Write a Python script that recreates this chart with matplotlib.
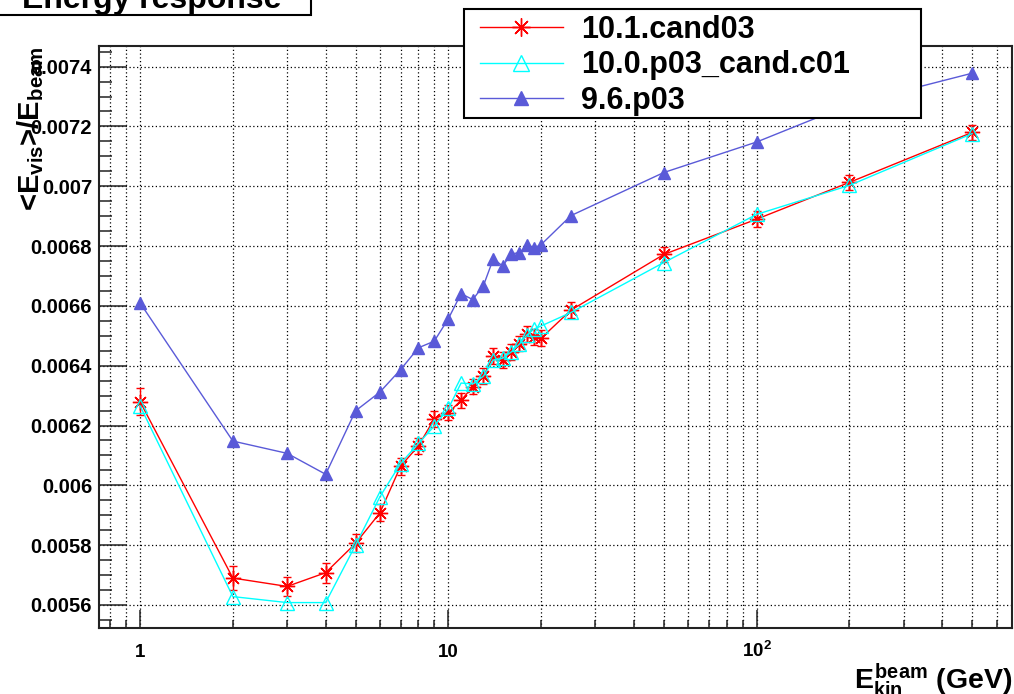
import matplotlib
matplotlib.use('Agg')
import matplotlib.pyplot as plt
from matplotlib.ticker import LogLocator, MultipleLocator, FuncFormatter, NullFormatter
from matplotlib.patches import Rectangle
from matplotlib.lines import Line2D

plt.rcParams['font.family'] = ['Liberation Sans', 'DejaVu Sans']
plt.rcParams['font.weight'] = 'bold'
plt.rcParams['axes.labelweight'] = 'bold'
plt.rcParams['mathtext.fontset'] = 'custom'
plt.rcParams['mathtext.rm'] = 'Liberation Sans:bold'
plt.rcParams['mathtext.it'] = 'Liberation Sans:bold'
plt.rcParams['mathtext.bf'] = 'Liberation Sans:bold'

# Beam kinetic energies (GeV)
energy = [1, 2, 3, 4, 5, 6, 7, 8, 9, 10, 11, 12, 13, 14, 15, 16, 17, 18, 19, 20,
          25, 50, 100, 200, 500]

# <E_vis>/E_beam for each software version
resp_101 = [0.006280, 0.005690, 0.005662, 0.005708, 0.005806, 0.005908, 0.006064,
            0.006132, 0.006222, 0.006243, 0.006284, 0.006330, 0.006365, 0.006432,
            0.006420, 0.006446, 0.006474, 0.006506, 0.006496, 0.006492, 0.006586,
            0.006772, 0.006890, 0.007013, 0.007180]
err_101 = [0.000046, 0.000039, 0.000033, 0.000034, 0.000030, 0.000028, 0.000028,
           0.000027, 0.000027, 0.000026, 0.000026, 0.000026, 0.000026, 0.000026,
           0.000026, 0.000026, 0.000026, 0.000026, 0.000026, 0.000026, 0.000026,
           0.000026, 0.000026, 0.000026, 0.000026]
resp_100 = [0.006266, 0.005628, 0.005608, 0.005608, 0.005800, 0.005962, 0.006073,
            0.006140, 0.006198, 0.006257, 0.006342, 0.006339, 0.006365, 0.006419,
            0.006425, 0.006446, 0.006472, 0.006503, 0.006523, 0.006533, 0.006578,
            0.006745, 0.006906, 0.007003, 0.007176]
resp_96 = [0.006610, 0.006148, 0.006107, 0.006037, 0.006249, 0.006312, 0.006387,
           0.006460, 0.006482, 0.006557, 0.006641, 0.006621, 0.006668, 0.006758,
           0.006733, 0.006774, 0.006778, 0.006802, 0.006794, 0.006805, 0.006902,
           0.007046, 0.007148, 0.007273, 0.007378]

series_labels = ['10.1.cand03', '10.0.p03_cand.c01', '9.6.p03']
c_red, c_cyan, c_blue = '#ff0000', '#00ffff', '#5a5ad8'
asterisk = (8, 2, 0)

W, H = 1014, 694
fig = plt.figure(figsize=(W / 100, H / 100), dpi=100)
ax = fig.add_axes([99 / W, 1 - 628 / H, (1012.5 - 99) / W, (628 - 46) / H])

ax.errorbar(energy, resp_101, yerr=err_101, color=c_red, lw=1, marker=asterisk,
            ms=11, mew=1, capsize=3, elinewidth=1, capthick=1, zorder=3)
ax.plot(energy, resp_100, color=c_cyan, lw=1, marker='^', ms=10, mfc='none',
        mec=c_cyan, mew=1, zorder=4)
ax.plot(energy, resp_96, color=c_blue, lw=1, marker='^', ms=8.5, mfc=c_blue,
        mec=c_blue, zorder=4)

ax.set_xscale('log')
ax.set_xlim(0.736, 676)
ax.set_ylim(0.005523, 0.007469)

ax.xaxis.set_major_locator(LogLocator(base=10, numticks=10))
ax.xaxis.set_minor_locator(LogLocator(base=10, subs=[2, 3, 4, 5, 6, 7, 8, 9], numticks=20))
ax.xaxis.set_minor_formatter(NullFormatter())
ax.set_xticks([1, 10, 100], labels=['1', '10', r'$10^{2}$'])
ax.yaxis.set_major_locator(MultipleLocator(0.0002))
ax.yaxis.set_minor_locator(MultipleLocator(0.00005))
ax.yaxis.set_major_formatter(FuncFormatter(lambda v, p: f'{v:.4f}'.rstrip('0')))

ax.tick_params(axis='both', which='both', direction='in', top=False, right=False,
               color='#222222', width=1.1)
ax.tick_params(axis='y', which='major', length=20, labelsize=14.5, pad=5)
ax.tick_params(axis='y', which='minor', length=9.5)
ax.tick_params(axis='x', which='major', length=12.7, labelsize=13.5, pad=21)
ax.tick_params(axis='x', which='minor', length=5.8)
for lab in ax.get_xticklabels():
    lab.set_verticalalignment('baseline')

dot = (0, (1, 2))
ax.grid(True, axis='x', which='both', color='black', lw=0.9, ls=dot)
ax.grid(True, axis='y', which='major', color='black', lw=0.9, ls=dot)
ax.set_axisbelow(True)
for s in ax.spines.values():
    s.set_linewidth(1.5)
    s.set_color('#222222')

ax.set_ylabel('<E$_{vis}$>/E$_{beam}$', fontsize=21, fontweight='bold', loc='top')
ax.yaxis.set_label_coords(-0.058, 1.0)
ax.set_xlabel(r'$E_{kin}^{beam}$ (GeV)', fontsize=20.5, fontweight='bold', loc='right')
ax.xaxis.set_label_coords(1.0, -0.057)

# Title box
fig.patches.append(Rectangle((-2 / W, 1 - 15 / H), 313 / W, 40 / H, transform=fig.transFigure,
                             facecolor='white', edgecolor='black', lw=1.5, zorder=5))
fig.text(152 / W, 1 - 8 / H, 'Energy response', ha='center', va='baseline',
         fontsize=23, fontweight='bold', zorder=6)

# Legend box
fig.patches.append(Rectangle((464 / W, 1 - 118 / H), 457 / W, 109 / H, transform=fig.transFigure,
                             facecolor='white', edgecolor='black', lw=1.5, zorder=5))
handles = [
    Line2D([], [], color=c_red, lw=1, marker=asterisk, ms=13, mew=1),
    Line2D([], [], color=c_cyan, lw=1, marker='^', ms=11, mfc='none', mec=c_cyan, mew=1),
    Line2D([], [], color=c_blue, lw=1, marker='^', ms=10, mfc=c_blue, mec=c_blue),
]
leg = fig.legend(handles, series_labels, loc='upper left',
                 bbox_to_anchor=(480 / W, 1 - 15 / H), bbox_transform=fig.transFigure,
                 frameon=False, borderpad=0, borderaxespad=0, handlelength=2.7,
                 handletextpad=0.6, labelspacing=0.18,
                 prop={'size': 22, 'weight': 'bold'})
leg.set_zorder(6)

fig.savefig('out.png', dpi=100)
